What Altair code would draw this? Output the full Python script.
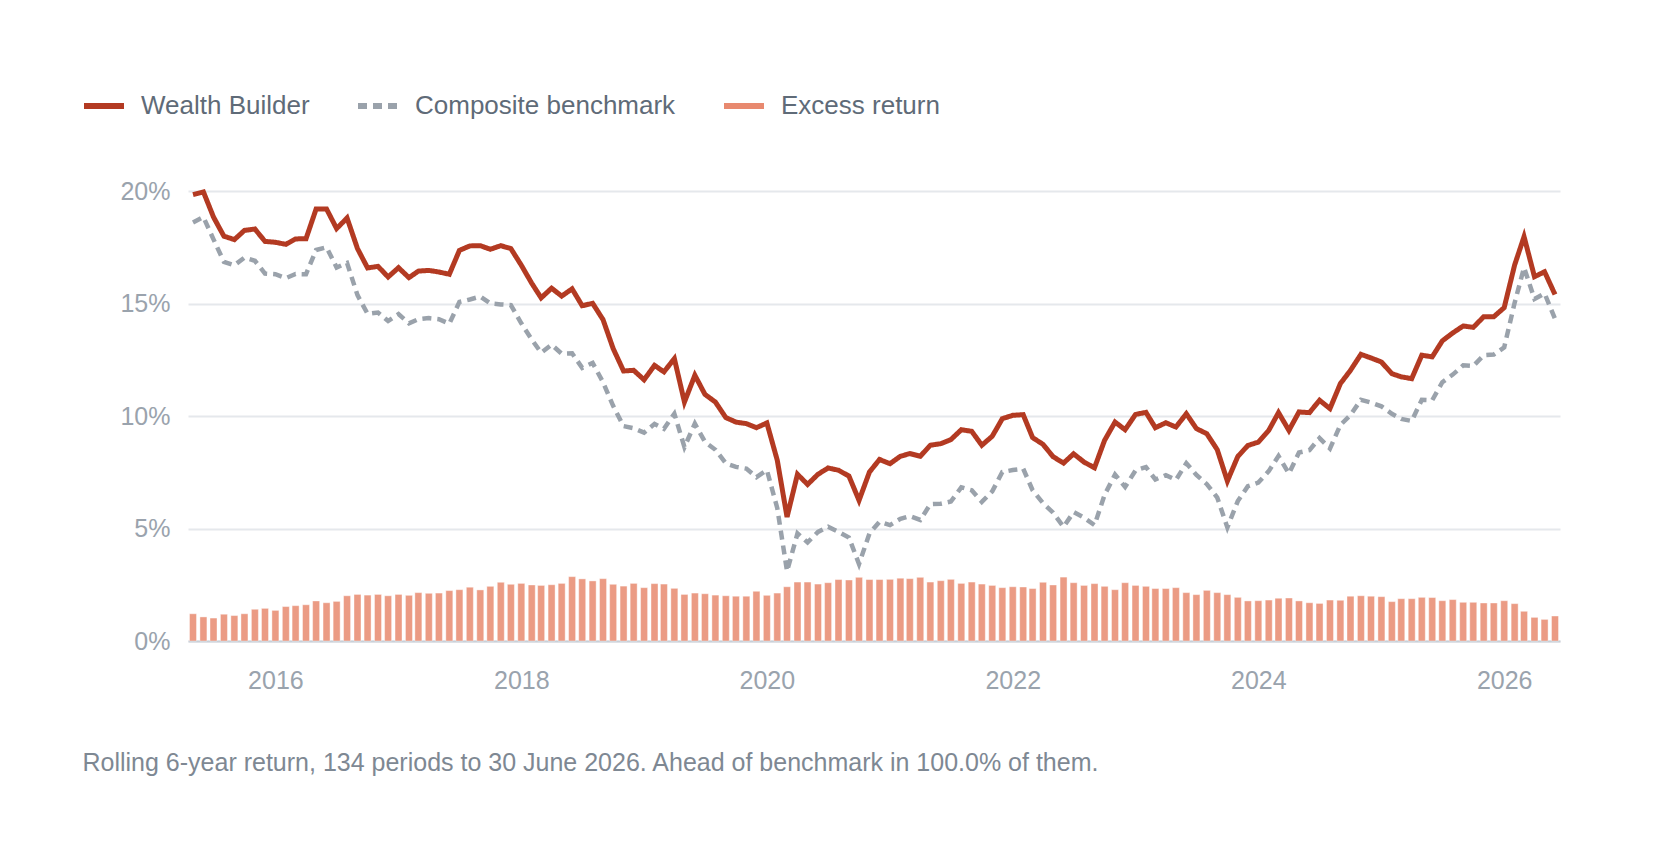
import altair as alt
import pandas as pd

# ---------------- data ----------------
START_MONTH = "2015-05-01"
N_PERIODS = 134
dates = pd.date_range(START_MONTH, periods=N_PERIODS, freq="MS").strftime("%Y-%m-%d").tolist()

wealth_builder = [
    19.84, 19.96, 18.84, 17.99, 17.84, 18.25, 18.31, 17.76, 17.72, 17.63,
    17.87, 17.88, 19.20, 19.20, 18.33, 18.80, 17.44, 16.58, 16.65, 16.18,
    16.59, 16.15, 16.44, 16.47, 16.40, 16.30, 17.36, 17.56, 17.57, 17.41,
    17.57, 17.44, 16.70, 15.90, 15.25, 15.68, 15.33, 15.65, 14.90, 15.01,
    14.28, 13.00, 12.00, 12.03, 11.61, 12.25, 11.96, 12.55, 10.62, 11.81,
    10.96, 10.62, 9.93, 9.73, 9.66, 9.48, 9.69, 8.03, 5.51, 7.41,
    6.96, 7.41, 7.69, 7.59, 7.33, 6.25, 7.51, 8.07, 7.88, 8.21,
    8.33, 8.21, 8.70, 8.77, 8.95, 9.39, 9.32, 8.70, 9.10, 9.88,
    10.03, 10.06, 9.04, 8.74, 8.19, 7.91, 8.32, 7.95, 7.70, 8.92,
    9.73, 9.39, 10.07, 10.16, 9.48, 9.70, 9.51, 10.10, 9.44, 9.21,
    8.50, 7.11, 8.20, 8.69, 8.84, 9.36, 10.15, 9.36, 10.18, 10.15,
    10.70, 10.33, 11.44, 12.03, 12.74, 12.58, 12.40, 11.88, 11.74, 11.66,
    12.70, 12.63, 13.34, 13.69, 14.00, 13.94, 14.41, 14.41, 14.82, 16.71,
    17.97, 16.19, 16.41, 15.40,
]

composite_benchmark = [
    18.60, 18.84, 17.85, 16.85, 16.70, 17.04, 16.90, 16.33, 16.30, 16.13,
    16.31, 16.30, 17.38, 17.50, 16.60, 16.80, 15.37, 14.54, 14.60, 14.22,
    14.53, 14.12, 14.30, 14.35, 14.30, 14.10, 15.07, 15.18, 15.31, 15.00,
    14.96, 14.93, 14.12, 13.40, 12.81, 13.17, 12.77, 12.79, 12.14, 12.36,
    11.50, 10.45, 9.55, 9.46, 9.26, 9.65, 9.43, 10.10, 8.62, 9.66,
    8.85, 8.50, 7.90, 7.74, 7.66, 7.28, 7.60, 5.90, 3.10, 4.78,
    4.38, 4.85, 5.08, 4.85, 4.60, 3.42, 4.78, 5.30, 5.15, 5.43,
    5.55, 5.38, 6.08, 6.10, 6.20, 6.83, 6.70, 6.18, 6.65, 7.51,
    7.60, 7.66, 6.70, 6.13, 5.70, 5.07, 5.73, 5.48, 5.15, 6.49,
    7.40, 6.85, 7.58, 7.73, 7.18, 7.37, 7.16, 7.90, 7.38, 6.97,
    6.37, 5.05, 6.22, 6.88, 7.04, 7.55, 8.22, 7.44, 8.38, 8.48,
    9.02, 8.55, 9.60, 10.04, 10.72, 10.60, 10.43, 10.10, 9.87, 9.78,
    10.72, 10.70, 11.50, 11.84, 12.25, 12.22, 12.70, 12.73, 13.05, 15.03,
    16.60, 15.20, 15.45, 14.32,
]

excess_return = [
    1.21, 1.07, 1.02, 1.19, 1.13, 1.21, 1.41, 1.45, 1.36, 1.53,
    1.57, 1.61, 1.78, 1.70, 1.76, 2.01, 2.07, 2.04, 2.07, 2.01,
    2.07, 2.03, 2.15, 2.12, 2.13, 2.24, 2.28, 2.39, 2.27, 2.43,
    2.61, 2.52, 2.56, 2.49, 2.47, 2.50, 2.56, 2.86, 2.76, 2.67,
    2.77, 2.52, 2.44, 2.56, 2.37, 2.55, 2.53, 2.34, 2.07, 2.13,
    2.10, 2.04, 2.01, 1.99, 1.99, 2.21, 2.03, 2.13, 2.41, 2.62,
    2.62, 2.53, 2.59, 2.73, 2.71, 2.83, 2.73, 2.73, 2.74, 2.79,
    2.77, 2.83, 2.62, 2.68, 2.74, 2.56, 2.62, 2.53, 2.47, 2.37,
    2.41, 2.40, 2.33, 2.61, 2.49, 2.84, 2.59, 2.47, 2.55, 2.43,
    2.28, 2.59, 2.47, 2.43, 2.33, 2.33, 2.37, 2.15, 2.06, 2.25,
    2.15, 2.06, 1.94, 1.78, 1.79, 1.82, 1.90, 1.91, 1.78, 1.70,
    1.67, 1.82, 1.81, 1.99, 2.01, 1.99, 1.97, 1.75, 1.88, 1.88,
    1.94, 1.93, 1.79, 1.84, 1.72, 1.72, 1.69, 1.69, 1.79, 1.66,
    1.32, 1.05, 0.96, 1.11,
]

SERIES = ["Wealth Builder", "Composite benchmark", "Excess return"]
Y_TICKS = [0, 5, 10, 15, 20]
X_TICK_YEARS = [2016, 2018, 2020, 2022, 2024, 2026]
FOOTNOTE = "Rolling 6-year return, 134 periods to 30 June 2026. Ahead of benchmark in 100.0% of them."

# ---------------- styling ----------------
RED = "#b33a22"
GRAY = "#9aa2ab"
SALMON = "#e8896f"
FONT = "Liberation Sans"

rows = []
for name, vals in zip(SERIES, [wealth_builder, composite_benchmark, excess_return]):
    for d, v in zip(dates, vals):
        rows.append({"date": d, "series": name, "value": v})
df = pd.DataFrame(rows)

color_scale = alt.Scale(domain=SERIES, range=[RED, GRAY, SALMON])
dash_scale = alt.Scale(domain=SERIES, range=[[1, 0], [9, 6], [1, 0]])

legend = alt.Legend(
    title=None,
    orient="none",
    legendX=-107,
    legendY=-108,
    direction="horizontal",
    symbolType="stroke",
    symbolSize=1600,
    symbolStrokeWidth=6,
    labelFontSize=26,
    labelColor="#5f6b78",
    labelFont=FONT,
    labelOffset=14,
    labelLimit=500,
    columnPadding=36,
    padding=0,
)

x_enc = alt.X(
    "date:T",
    scale=alt.Scale(type="utc", domain=[dates[0], dates[-1]], nice=False),
    axis=alt.Axis(
        values=[alt.DateTime(year=y, month=1, date=1, utc=True) for y in X_TICK_YEARS],
        format="%Y",
        formatType="utc",
        grid=False,
        ticks=False,
        domain=True,
        domainColor="#c9d0d8",
        domainWidth=2,
        labelPadding=27,
        labelFontSize=25,
        labelColor="#9aa3ad",
        labelFont=FONT,
        title=FOOTNOTE,
        titleX=-106,
        titleY=121,
        titleAlign="left",
        titleAnchor="start",
        titleBaseline="middle",
        titleFontSize=25,
        titleFontWeight="normal",
        titleColor="#7e8893",
        titleFont=FONT,
        titleAngle=0,
    ),
)

y_enc = alt.Y(
    "value:Q",
    scale=alt.Scale(domain=[0, 20], nice=False),
    axis=alt.Axis(
        values=Y_TICKS,
        labelExpr="datum.value + '%'",
        grid=True,
        gridColor="#e5e8ec",
        gridWidth=2,
        domain=False,
        ticks=False,
        labelPadding=18,
        labelFontSize=25,
        labelColor="#9aa3ad",
        labelFont=FONT,
        title=None,
    ),
)

base = alt.Chart(df)

bars = base.transform_filter(alt.datum.series == "Excess return").mark_bar(
    size=7, fillOpacity=0.85, stroke="white", strokeWidth=0.8, strokeOpacity=0.5
).encode(
    x=x_enc,
    y=y_enc,
    color=alt.Color("series:N", scale=color_scale, legend=legend),
)

bench = base.transform_filter(alt.datum.series == "Composite benchmark").mark_line(
    strokeWidth=4.5
).encode(
    x=x_enc,
    y=y_enc,
    color=alt.Color("series:N", scale=color_scale, legend=legend),
    strokeDash=alt.StrokeDash("series:N", scale=dash_scale, legend=legend),
)

wealth = base.transform_filter(alt.datum.series == "Wealth Builder").mark_line(
    strokeWidth=5
).encode(
    x=x_enc,
    y=y_enc,
    color=alt.Color("series:N", scale=color_scale, legend=legend),
    strokeDash=alt.StrokeDash("series:N", scale=dash_scale, legend=legend),
)

chart = alt.layer(bars, bench, wealth).properties(
    width=1372,
    height=450,
    autosize=alt.AutoSizeParams(type="none"),
    padding={"left": 180, "top": 183, "right": 90, "bottom": 190},
    background="white",
).configure(font=FONT).configure_view(stroke=None, strokeWidth=0)

chart.save("out.html", embed_options={"renderer": "svg", "actions": False})
